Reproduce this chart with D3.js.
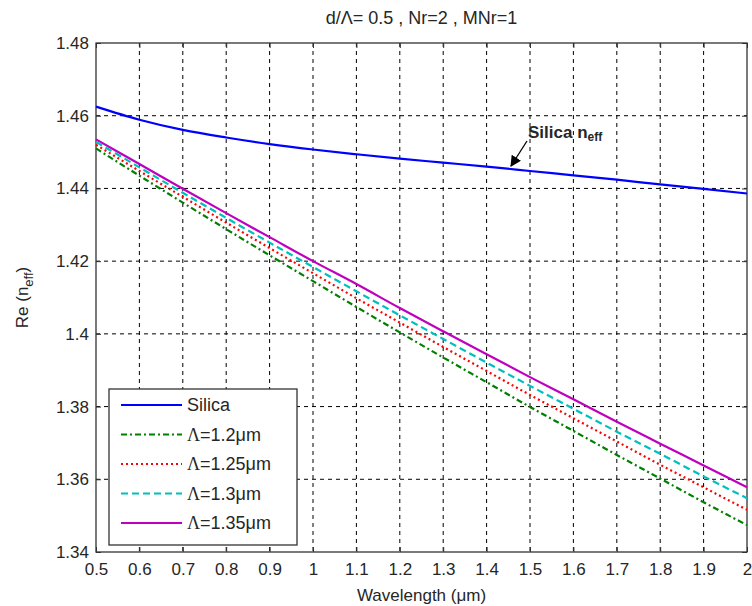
<!DOCTYPE html>
<html>
<head>
<meta charset="utf-8">
<script src="https://cdn.jsdelivr.net/npm/d3@7"></script>
<style>
  body { margin: 0; background: #fff; }
  text { font-family: "Liberation Sans", Arial, sans-serif; fill: #262626; }
</style>
</head>
<body>
<script>
// wavelength samples (um)
var wavelengths = [0.5, 0.6, 0.7, 0.8, 0.9, 1.0, 1.1, 1.2, 1.3, 1.4, 1.5, 1.6, 1.7, 1.8, 1.9, 2.0];

// Re(n_eff)
var silica = [1.4625, 1.4589, 1.4561, 1.4540, 1.4522, 1.4507, 1.4494, 1.4482, 1.4471, 1.4460, 1.4448, 1.4436, 1.4424, 1.4411, 1.4399, 1.4386];
var lam120 = [1.4510, 1.4435, 1.4361, 1.4288, 1.4216, 1.4145, 1.4074, 1.4004, 1.3935, 1.3867, 1.3799, 1.3733, 1.3667, 1.3602, 1.3537, 1.3474];
var lam125 = [1.4520, 1.4448, 1.4377, 1.4306, 1.4236, 1.4167, 1.4098, 1.4031, 1.3964, 1.3898, 1.3832, 1.3768, 1.3704, 1.3640, 1.3578, 1.3516];
var lam130 = [1.4528, 1.4458, 1.4388, 1.4319, 1.4251, 1.4184, 1.4117, 1.4051, 1.3986, 1.3921, 1.3857, 1.3794, 1.3731, 1.3670, 1.3608, 1.3548];
var lam135 = [1.4535, 1.4467, 1.4399, 1.4332, 1.4266, 1.4200, 1.4137, 1.4071, 1.4007, 1.3944, 1.3881, 1.3820, 1.3758, 1.3698, 1.3638, 1.3578];

var xTicks = [0.5, 0.6, 0.7, 0.8, 0.9, 1, 1.1, 1.2, 1.3, 1.4, 1.5, 1.6, 1.7, 1.8, 1.9, 2];
var yTicks = [1.34, 1.36, 1.38, 1.40, 1.42, 1.44, 1.46, 1.48];

var series = [
  {name: "Silica", values: silica, color: "#0000ff", dash: null},
  {name: "1.2μm", values: lam120, color: "#008000", dash: "6,3,2,3"},
  {name: "1.25μm", values: lam125, color: "#ff0000", dash: "2,3"},
  {name: "1.3μm", values: lam130, color: "#00bfbf", dash: "7,4"},
  {name: "1.35μm", values: lam135, color: "#bf00bf", dash: null}
];

var W = 752, H = 606;
var margin = {top: 43, right: 5, bottom: 54, left: 96};
var width = W - margin.left - margin.right,
    height = H - margin.top - margin.bottom;

var svg = d3.select("body").append("svg")
    .attr("width", W)
    .attr("height", H);

var g = svg.append("g")
    .attr("transform", "translate(" + margin.left + "," + margin.top + ")");

var x = d3.scaleLinear().domain([0.5, 2]).range([0, width]);
var y = d3.scaleLinear().domain([1.34, 1.48]).range([height, 0]);

// grid
g.selectAll(".vgrid")
    .data(xTicks.slice(1, -1))
    .enter().append("line")
    .attr("x1", function(d) { return x(d); })
    .attr("x2", function(d) { return x(d); })
    .attr("y1", 0).attr("y2", height)
    .attr("stroke", "#000").attr("stroke-width", 1)
    .attr("stroke-dasharray", "4,4");

g.selectAll(".hgrid")
    .data(yTicks.slice(1, -1))
    .enter().append("line")
    .attr("y1", function(d) { return y(d); })
    .attr("y2", function(d) { return y(d); })
    .attr("x1", 0).attr("x2", width)
    .attr("stroke", "#000").attr("stroke-width", 1)
    .attr("stroke-dasharray", "4,4");

// axes (ticks inside, like matlab)
var xAxis = g.append("g")
    .attr("transform", "translate(0," + height + ")")
    .call(d3.axisBottom(x).tickValues(xTicks).tickSizeInner(-5).tickSizeOuter(0).tickPadding(11)
      .tickFormat(function(d) { return String(d); }));
var xAxisTop = g.append("g")
    .call(d3.axisTop(x).tickValues(xTicks).tickSizeInner(-5).tickSizeOuter(0).tickFormat(""));
var yAxis = g.append("g")
    .call(d3.axisLeft(y).tickValues(yTicks).tickSizeInner(-5).tickSizeOuter(0).tickPadding(7)
      .tickFormat(function(d) { return String(+d.toFixed(2)); }));
var yAxisRight = g.append("g")
    .attr("transform", "translate(" + width + ",0)")
    .call(d3.axisRight(y).tickValues(yTicks).tickSizeInner(-5).tickSizeOuter(0).tickFormat(""));

[xAxis, xAxisTop, yAxis, yAxisRight].forEach(function(a) {
  a.select(".domain").remove();
  a.selectAll("line").attr("stroke", "#333");
  a.selectAll("text").attr("font-size", 17).attr("fill", "#262626")
    .attr("font-family", "Liberation Sans, Arial, sans-serif");
});

// box
g.append("rect")
    .attr("width", width).attr("height", height)
    .attr("fill", "none").attr("stroke", "#333").attr("stroke-width", 1.3);

// lines
var line = d3.line()
    .x(function(d, i) { return x(wavelengths[i]); })
    .y(function(d) { return y(d); })
    .curve(d3.curveMonotoneX);

var order = [0, 4, 3, 2, 1];
order.forEach(function(k) {
  var s = series[k];
  g.append("path")
      .datum(s.values)
      .attr("fill", "none")
      .attr("stroke", s.color)
      .attr("stroke-width", 2.2)
      .attr("stroke-dasharray", s.dash)
      .attr("d", line);
});

// title and labels
svg.append("text")
    .attr("x", margin.left + width / 2).attr("y", 24)
    .attr("text-anchor", "middle").attr("font-size", 18)
    .text("d/Λ= 0.5 , Nr=2 , MNr=1");

svg.append("text")
    .attr("x", margin.left + width / 2).attr("y", 601)
    .attr("text-anchor", "middle").attr("font-size", 17)
    .text("Wavelength (μm)");

var yl = svg.append("text")
    .attr("transform", "translate(28," + (margin.top + height / 2) + ") rotate(-90)")
    .attr("text-anchor", "middle").attr("font-size", 17);
yl.append("tspan").text("Re (n");
yl.append("tspan").attr("font-size", 13).attr("dy", 5).text("eff");
yl.append("tspan").attr("dy", -5).text(")");

// annotation arrow
svg.append("defs").append("marker")
    .attr("id", "ah").attr("viewBox", "0 0 10 10")
    .attr("refX", 9).attr("refY", 5)
    .attr("markerWidth", 11).attr("markerHeight", 11)
    .attr("markerUnits", "userSpaceOnUse")
    .attr("orient", "auto")
    .append("path").attr("d", "M0,0 L10,5 L0,10 Z").attr("fill", "#000");

svg.append("line")
    .attr("x1", 527).attr("y1", 141)
    .attr("x2", 511).attr("y2", 166)
    .attr("stroke", "#000").attr("stroke-width", 1.3)
    .attr("marker-end", "url(#ah)");

var ann = svg.append("text")
    .attr("x", 528).attr("y", 138)
    .attr("font-size", 17).attr("font-weight", "bold").attr("fill", "#000");
ann.append("tspan").text("Silica n");
ann.append("tspan").attr("font-size", 12).attr("dy", 3).text("eff");

// legend
var lg = svg.append("g").attr("transform", "translate(109,389)");
lg.append("rect")
    .attr("width", 188).attr("height", 156)
    .attr("fill", "#fff").attr("stroke", "#333").attr("stroke-width", 1.3);

series.forEach(function(s, i) {
  var ly = 16 + i * 29.5;
  lg.append("line")
      .attr("x1", 12).attr("x2", 73)
      .attr("y1", ly).attr("y2", ly)
      .attr("stroke", s.color).attr("stroke-width", 2.2)
      .attr("stroke-dasharray", s.dash);
  var t = lg.append("text")
      .attr("x", 78).attr("y", ly + 6)
      .attr("font-size", 18).attr("fill", "#000");
  if (i === 0) {
    t.text(s.name);
  } else {
    t.append("tspan").attr("font-family", "Liberation Serif, Times New Roman, serif").text("Λ");
    t.append("tspan").text("=" + s.name);
  }
});
</script>
</body>
</html>
